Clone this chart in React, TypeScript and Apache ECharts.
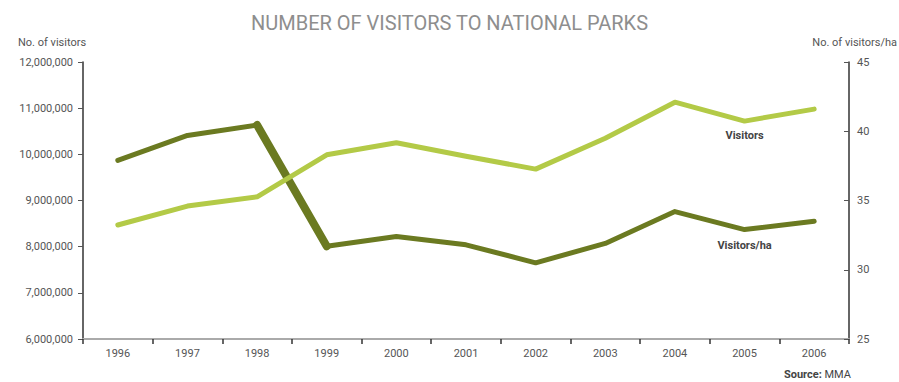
import React, { useEffect, useRef } from "react";
import * as echarts from "echarts";

const years = ["1996", "1997", "1998", "1999", "2000", "2001", "2002", "2003", "2004", "2005", "2006"];
const visitors = [8470000, 8880000, 9080000, 9990000, 10250000, 9960000, 9680000, 10350000, 11130000, 10720000, 10980000];
const visitorsPerHa = [37.9, 39.7, 40.45, 31.7, 32.4, 31.8, 30.5, 31.9, 34.2, 32.9, 33.5];
const leftTicks = [6000000, 7000000, 8000000, 9000000, 10000000, 11000000, 12000000];
const rightTicks = [25, 30, 35, 40, 45];

const LIGHT = "#b3ca47";
const DARK = "#6b7a21";
const FONT = "Roboto, 'Noto Sans', sans-serif";

export default function App() {
  const ref = useRef<HTMLDivElement>(null);
  useEffect(() => {
    if (!ref.current) return;
    const chart = echarts.init(ref.current, null, { renderer: "svg" });
    const labelIdx = 9;
    const steepSeg = visitorsPerHa.map((v, i) => (i === 2 || i === 3 ? v : null));
    const lbl = (text: string, dist: number) => ({
      show: true,
      position: "bottom",
      distance: dist,
      formatter: text,
      fontWeight: "bold",
      fontSize: 11,
      color: "#444",
      fontFamily: FONT,
    });
    chart.setOption({
      animation: false,
      textStyle: { fontFamily: FONT },
      title: {
        text: "NUMBER OF VISITORS TO NATIONAL PARKS",
        left: "center",
        top: 8,
        textStyle: { fontFamily: FONT, fontSize: 20, fontWeight: "normal", color: "#8e8e8e" },
      },
      graphic: [
        {
          type: "text",
          left: 18,
          top: 37,
          style: { text: "No. of visitors", fontFamily: FONT, fontSize: 11, fill: "#555" },
        },
        {
          type: "text",
          right: 2,
          top: 37,
          style: { text: "No. of visitors/ha", fontFamily: FONT, fontSize: 11, fill: "#555" },
        },
        {
          type: "text",
          right: 48,
          bottom: 2,
          style: {
            text: "{b|Source:} MMA",
            fontFamily: FONT,
            fontSize: 11,
            fill: "#444",
            rich: { b: { fontWeight: "bold", fontSize: 11, fontFamily: FONT, fill: "#444" } },
          },
        },
      ],
      grid: { left: 83, right: 50, top: 62, bottom: 43 },
      xAxis: {
        type: "category",
        data: years,
        boundaryGap: true,
        axisLine: { lineStyle: { color: "#aaaaaa", width: 2 } },
        axisTick: { show: true, length: 5, lineStyle: { color: "#333", width: 1.5 } },
        axisLabel: { color: "#555", fontSize: 11, margin: 9, fontFamily: FONT },
      },
      yAxis: [
        {
          type: "value",
          min: leftTicks[0],
          max: leftTicks[leftTicks.length - 1],
          interval: 1000000,
          axisLine: { show: true, lineStyle: { color: "#333", width: 1.5 } },
          axisTick: { show: true, length: 5, lineStyle: { color: "#555" } },
          splitLine: { show: false },
          axisLabel: {
            color: "#555",
            fontSize: 11,
            margin: 10,
            fontFamily: FONT,
            formatter: (v: number) => v.toLocaleString("en-US"),
          },
        },
        {
          type: "value",
          min: rightTicks[0],
          max: rightTicks[rightTicks.length - 1],
          interval: 5,
          position: "right",
          axisLine: { show: true, lineStyle: { color: "#333", width: 1.5 } },
          axisTick: { show: true, inside: true, length: 5, lineStyle: { color: "#555" } },
          splitLine: { show: false },
          axisLabel: { color: "#555", fontSize: 11, margin: 8, fontFamily: FONT },
        },
      ],
      series: [
        {
          name: "Visitors",
          type: "line",
          yAxisIndex: 0,
          data: visitors.map((v, i) => (i === labelIdx ? { value: v, label: lbl("Visitors", 9) } : v)),
          symbol: "circle",
          symbolSize: 0,
          showSymbol: true,
          lineStyle: { color: LIGHT, width: 5, cap: "round", join: "round" },
          itemStyle: { color: LIGHT },
          z: 2,
        },
        {
          name: "Visitors/ha",
          type: "line",
          yAxisIndex: 1,
          data: visitorsPerHa.map((v, i) => (i === labelIdx ? { value: v, label: lbl("Visitors/ha", 10) } : v)),
          symbol: "circle",
          symbolSize: 0,
          showSymbol: true,
          lineStyle: { color: DARK, width: 5, cap: "round", join: "round" },
          itemStyle: { color: DARK },
          z: 1,
        },
        {
          name: "steep",
          type: "line",
          yAxisIndex: 1,
          data: steepSeg,
          symbol: "none",
          showSymbol: false,
          connectNulls: false,
          lineStyle: { color: DARK, width: 8, cap: "round", join: "round" },
          z: 1,
          silent: true,
        },
      ],
    });
    return () => chart.dispose();
  }, []);
  return (
    <div
      ref={ref}
      style={{ position: "absolute", left: 0, top: 0, width: 899, height: 382, background: "#fff" }}
    />
  );
}
